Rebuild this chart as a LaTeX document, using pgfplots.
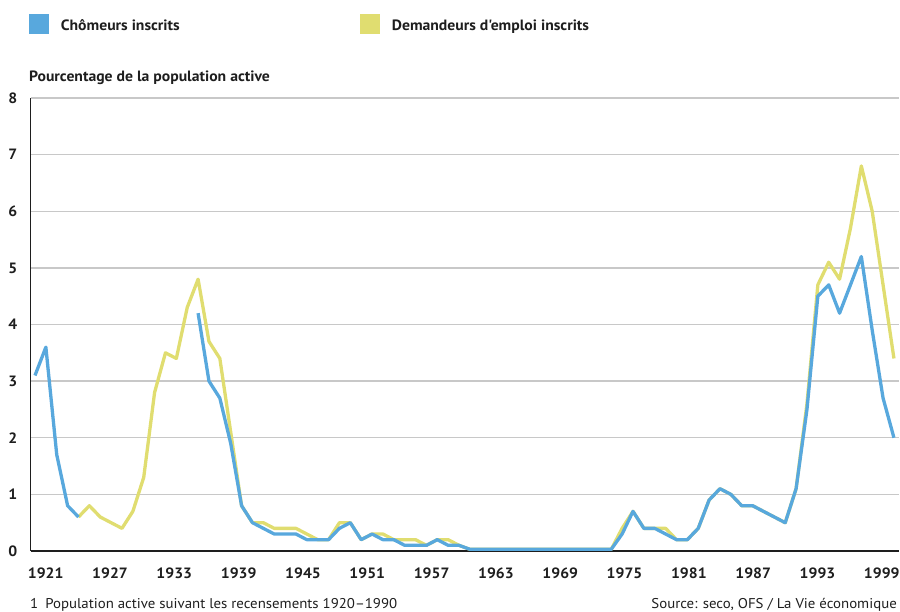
\documentclass[border=0pt]{standalone}
\usepackage{fontspec}
\setmainfont{PT Sans}[FakeStretch=1.05, Ligatures=TeXOff]
\usepackage{pgfplots}
\usepackage{pgfplotstable}
\pgfplotsset{compat=1.18}

\definecolor{chom}{RGB}{88,168,221}
\definecolor{dem}{RGB}{224,221,112}
\definecolor{gridgray}{RGB}{200,200,200}
\definecolor{ink}{RGB}{30,30,30}

% Unemployment in Switzerland, percent of the active population
\pgfplotstableread{
year chom dem
1921 3.1 nan
1922 3.6 nan
1923 1.7 nan
1924 0.8 nan
1925 0.6 0.6
1926 nan 0.8
1927 nan 0.6
1928 nan 0.5
1929 nan 0.4
1930 nan 0.7
1931 nan 1.3
1932 nan 2.8
1933 nan 3.5
1934 nan 3.4
1935 nan 4.3
1936 4.2 4.8
1937 3.0 3.7
1938 2.7 3.4
1939 1.9 2.1
1940 0.8 0.8
1941 0.5 0.5
1942 0.4 0.5
1943 0.3 0.4
1944 0.3 0.4
1945 0.3 0.4
1946 0.2 0.3
1947 0.2 0.2
1948 0.2 0.2
1949 0.4 0.5
1950 0.5 0.5
1951 0.2 0.2
1952 0.3 0.3
1953 0.2 0.3
1954 0.2 0.2
1955 0.1 0.2
1956 0.1 0.2
1957 0.1 0.1
1958 0.2 0.2
1959 0.1 0.2
1960 0.1 0.1
1961 0.03 0.03
1962 0.03 0.03
1963 0.03 0.03
1964 0.03 0.03
1965 0.03 0.03
1966 0.03 0.03
1967 0.03 0.03
1968 0.03 0.03
1969 0.03 0.03
1970 0.03 0.03
1971 0.03 0.03
1972 0.03 0.03
1973 0.03 0.03
1974 0.03 0.03
1975 0.3 0.4
1976 0.7 0.7
1977 0.4 0.4
1978 0.4 0.4
1979 0.3 0.4
1980 0.2 0.2
1981 0.2 0.2
1982 0.4 0.4
1983 0.9 0.9
1984 1.1 1.1
1985 1.0 1.0
1986 0.8 0.8
1987 0.8 0.8
1988 0.7 0.7
1989 0.6 0.6
1990 0.5 0.5
1991 1.1 1.1
1992 2.5 2.6
1993 4.5 4.7
1994 4.7 5.1
1995 4.2 4.8
1996 4.7 5.7
1997 5.2 6.8
1998 3.9 6.0
1999 2.7 4.7
2000 2.0 3.4
}\unemp

\begin{document}
\begin{tikzpicture}
\path[use as bounding box] (0,0) rectangle (900bp,612bp);

\begin{axis}[
  at={(30.5bp,61bp)}, anchor=south west,
  scale only axis, width=868bp, height=453bp,
  xmin=1920.586, xmax=2000.42, ymin=0, ymax=8,
  axis x line=bottom, axis y line=left,
  axis line style={-, line width=1.3bp, color=ink},
  ytick={0,1,...,8},
  ymajorgrids, major grid style={gridgray, line width=1.4bp},
  xtick={1921.98,1927.90,1933.81,1939.73,1945.65,1951.56,1957.48,1963.39,1969.31,1975.22,1981.14,1987.05,1992.97,1998.88},
  xticklabels={1921,1927,1933,1939,1945,1951,1957,1963,1969,1975,1981,1987,1993,1999},
  major tick length=0pt,
  /pgf/number format/assume math mode=true,
  tick label style={font=\fontsize{15}{18}\selectfont\bfseries, text=ink},
  yticklabel style={anchor=east, inner sep=0pt, xshift=-13bp},
  xticklabel style={anchor=base, inner sep=0pt, yshift=-27bp},
  unbounded coords=jump,
  clip=false,
]
\addplot[dem, line width=3.3bp, line join=round] table[x=year, y=dem] {\unemp};
\addplot[chom, line width=3.3bp, line join=round] table[x=year, y=chom] {\unemp};
\end{axis}

% key
\fill[chom] (29bp,578bp) rectangle (49bp,598bp);
\node[anchor=base west, inner sep=0pt, text=ink, font=\fontsize{15}{18}\selectfont\bfseries] at (60.7bp,581.7bp) {Chômeurs inscrits};
\fill[dem] (360bp,578bp) rectangle (380bp,598bp);
\node[anchor=base west, inner sep=0pt, text=ink, font=\fontsize{15}{18}\selectfont\bfseries] at (391.7bp,581.7bp) {Demandeurs d'emploi inscrits};

% unit caption
\node[anchor=base west, inner sep=0pt, text=ink, font=\fontsize{15}{18}\selectfont\bfseries] at (29bp,530bp) {Pourcentage de la population active};

% footer
\node[anchor=base west, inner sep=0pt, text=ink, font=\fontsize{14.2}{17}\selectfont] at (30bp,4bp) {1\hspace{7bp}Population active suivant les recensements 1920–1990};
\node[anchor=base east, inner sep=0pt, text=ink, font=\fontsize{14.2}{17}\selectfont] at (897bp,4bp) {Source: seco, OFS / La Vie économique};
\end{tikzpicture}
\end{document}
